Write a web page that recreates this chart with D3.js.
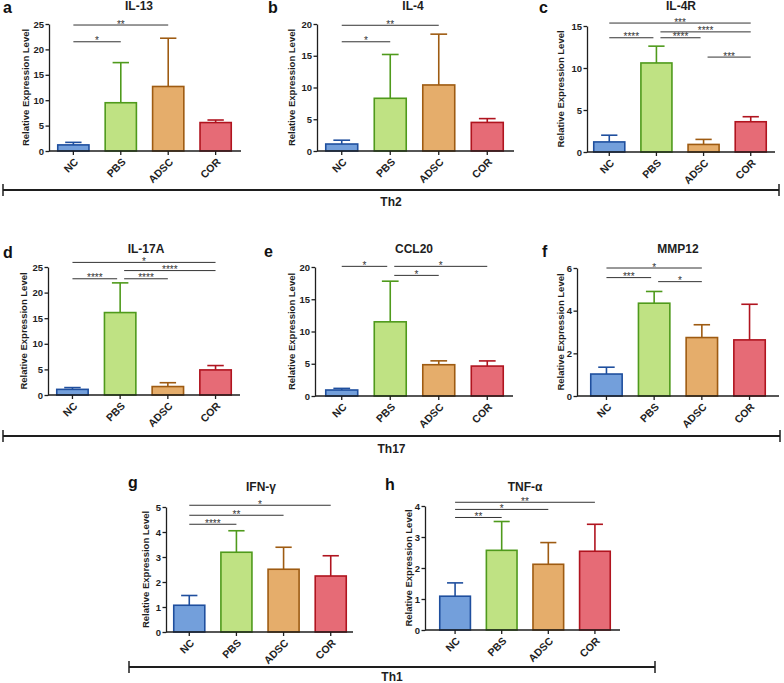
<!DOCTYPE html>
<html><head><meta charset="utf-8">
<script src="https://cdn.jsdelivr.net/npm/d3@7"></script>
<style>
body{margin:0;background:#fff}
svg{display:block}
text{font-family:"Liberation Sans",Arial,Helvetica,sans-serif}
</style>
</head><body><svg id="chart" width="784" height="683"></svg>
<script>
// ---------- data ----------
const categories = ["NC", "PBS", "ADSC", "COR"];
const groupLabels = ["Th2", "Th17", "Th1"];

const il13Mean = [1.2, 9.5, 12.7, 5.6];
const il13SD   = [0.5, 7.9, 9.5, 0.5];
const il13Sig  = [["NC","ADSC","**",24.8],["NC","PBS","*",21.5]];

const il4Mean = [1.1, 8.3, 10.4, 4.5];
const il4SD   = [0.6, 6.9, 8.0, 0.6];
const il4Sig  = [["NC","ADSC","**",19.8],["NC","PBS","*",17.2]];

const il4rMean = [1.2, 10.6, 0.9, 3.6];
const il4rSD   = [0.8, 2.0, 0.6, 0.6];
const il4rSig  = [["NC","COR","***",15.35],["PBS","COR","****",14.3],["NC","PBS","****",13.6],["PBS","ADSC","****",13.6],["ADSC","COR","***",11.3]];

const il17aMean = [1.1, 16.1, 1.65, 4.9];
const il17aSD   = [0.35, 5.8, 0.75, 0.85];
const il17aSig  = [["NC","COR","*",25.9],["PBS","COR","****",24.3],["NC","PBS","****",22.7],["PBS","ADSC","****",22.7]];

const ccl20Mean = [0.93, 11.5, 4.85, 4.64];
const ccl20SD   = [0.25, 6.3, 0.6, 0.8];
const ccl20Sig  = [["NC","PBS","*",20.1],["PBS","COR","*",20.1],["PBS","ADSC","*",18.7]];

const mmp12Mean = [1.03, 4.35, 2.74, 2.63];
const mmp12SD   = [0.32, 0.55, 0.6, 1.67];
const mmp12Sig  = [["NC","ADSC","*",6.0],["NC","PBS","***",5.55],["PBS","ADSC","*",5.36]];

const ifngMean = [1.07, 3.19, 2.51, 2.24];
const ifngSD   = [0.39, 0.86, 0.88, 0.81];
const ifngSig  = [["NC","COR","*",5.07],["NC","ADSC","**",4.67],["NC","PBS","****",4.31]];

const tnfaMean = [1.09, 2.57, 2.12, 2.54];
const tnfaSD   = [0.43, 0.93, 0.70, 0.87];
const tnfaSig  = [["NC","COR","**",4.12],["NC","ADSC","*",3.89],["NC","PBS","**",3.63]];

const yTickStep = [5, 5, 5, 5, 5, 2, 1, 1];
const yMax      = [25, 20, 15, 25, 20, 6, 5, 4];

// ---------- styles ----------
const fillColors   = ["#739fdb", "#bfe283", "#e5ad6b", "#e66b76"];
const strokeColors = ["#1f4f9e", "#4f9a1c", "#9e5b12", "#b0141f"];
const ink = "#1e1e1e";

// ---------- layout ----------
const panels = [
  {letter:"a", title:"IL-13",  mean:il13Mean,  sd:il13SD,  sig:il13Sig,  ax:49,  axEnd:241, barL:57,  barR:232, y0:151, yTop:24,  titleX:139, titleY:10,  letterX:3,   letterY:13,  ylabX:26},
  {letter:"b", title:"IL-4",   mean:il4Mean,   sd:il4SD,   sig:il4Sig,   ax:317, axEnd:514, barL:325, barR:504, y0:151, yTop:24,  titleX:413, titleY:10,  letterX:268, letterY:13,  ylabX:292},
  {letter:"c", title:"IL-4R",  mean:il4rMean,  sd:il4rSD,  sig:il4rSig,  ax:587, axEnd:775, barL:593, barR:767, y0:152, yTop:26,  titleX:681, titleY:10,  letterX:539, letterY:13,  ylabX:561},
  {letter:"d", title:"IL-17A", mean:il17aMean, sd:il17aSD, sig:il17aSig, ax:48,  axEnd:240, barL:56,  barR:232, y0:395, yTop:267, titleX:146, titleY:253, letterX:3,   letterY:258, ylabX:24},
  {letter:"e", title:"CCL20",  mean:ccl20Mean, sd:ccl20SD, sig:ccl20Sig, ax:315, axEnd:513, barL:325, barR:504, y0:396, yTop:267, titleX:414, titleY:253, letterX:264, letterY:257, ylabX:292},
  {letter:"f", title:"MMP12",  mean:mmp12Mean, sd:mmp12SD, sig:mmp12Sig, ax:577, axEnd:779, barL:590, barR:766, y0:396, yTop:268, titleX:678, titleY:253, letterX:542, letterY:257, ylabX:561},
  {letter:"g", title:"IFN-γ",  mean:ifngMean,  sd:ifngSD,  sig:ifngSig,  ax:166, axEnd:353, barL:173, barR:347, y0:632, yTop:507, titleX:261, titleY:491, letterX:128, letterY:488, ylabX:146},
  {letter:"h", title:"TNF-α",  mean:tnfaMean,  sd:tnfaSD,  sig:tnfaSig,  ax:425, axEnd:620, barL:439, barR:611, y0:630, yTop:506, titleX:525, titleY:491, letterX:385, letterY:490, ylabX:409}
];

const brackets = [
  {label:groupLabels[0], x1:3,   x2:779, y:190, labelY:206},
  {label:groupLabels[1], x1:3,   x2:780, y:436, labelY:453},
  {label:groupLabels[2], x1:129, x2:655, y:667, labelY:681}
];

const svg = d3.select("#chart");

panels.forEach((p, i) => {
  const g = svg.append("g");
  const y = d3.scaleLinear().domain([0, yMax[i]]).range([p.y0, p.yTop]);
  const x = d3.scaleBand().domain(categories).range([p.barL, p.barR]).paddingInner(0.31).paddingOuter(0);
  const bw = x.bandwidth();
  const data = categories.map((c, k) => ({cat:c, mean:p.mean[k], sd:p.sd[k], k}));

  // bars
  g.selectAll("rect.bar").data(data).join("rect")
    .attr("class","bar")
    .attr("x", d => x(d.cat) + 0.75)
    .attr("y", d => y(d.mean))
    .attr("width", bw - 1.5)
    .attr("height", d => y(0) - y(d.mean))
    .attr("fill", d => fillColors[d.k])
    .attr("stroke", d => strokeColors[d.k])
    .attr("stroke-width", 1.6);

  // error bars
  const capW = bw * 0.5;
  g.selectAll("line.err").data(data).join("line")
    .attr("x1", d => x(d.cat) + bw/2).attr("x2", d => x(d.cat) + bw/2)
    .attr("y1", d => y(d.mean)).attr("y2", d => y(d.mean + d.sd))
    .attr("stroke", d => strokeColors[d.k]).attr("stroke-width", 1.6);
  g.selectAll("line.cap").data(data).join("line")
    .attr("x1", d => x(d.cat) + bw/2 - capW/2).attr("x2", d => x(d.cat) + bw/2 + capW/2)
    .attr("y1", d => y(d.mean + d.sd)).attr("y2", d => y(d.mean + d.sd))
    .attr("stroke", d => strokeColors[d.k]).attr("stroke-width", 1.6);

  // y axis
  const yAxis = d3.axisLeft(y)
    .tickValues(d3.range(0, yMax[i] + yTickStep[i]/2, yTickStep[i]))
    .tickFormat(d3.format("d"))
    .tickSize(3.5).tickSizeOuter(0).tickPadding(1.5);
  const ya = g.append("g").attr("transform", `translate(${p.ax},0)`).call(yAxis);
  ya.select(".domain").attr("stroke", ink).attr("stroke-width", 1.3);
  ya.selectAll(".tick line").attr("stroke", ink).attr("stroke-width", 1.3);
  ya.selectAll(".tick text").attr("fill", ink).style("font-size","9.5px").style("font-weight","bold")
    .style("font-family",'"Liberation Sans",Arial,sans-serif');

  // x axis
  g.append("line").attr("x1", p.ax).attr("x2", p.axEnd).attr("y1", p.y0).attr("y2", p.y0)
    .attr("stroke", ink).attr("stroke-width", 1.3);
  const xAxis = d3.axisBottom(x).tickSize(4).tickSizeOuter(0).tickFormat("");
  const xa = g.append("g").attr("transform", `translate(0,${p.y0})`).call(xAxis);
  xa.select(".domain").remove();
  xa.selectAll(".tick text").remove();
  xa.selectAll(".tick line").attr("stroke", ink).attr("stroke-width", 1.3);
  const catG = g.selectAll("g.cat").data(categories).join("g")
    .attr("class","cat")
    .attr("transform", c => `translate(${x(c) + bw/2 + 3},${p.y0 + 9})`);
  catG.append("text")
    .attr("transform", "rotate(-45)")
    .attr("text-anchor","end")
    .attr("dy","0.35em")
    .attr("fill", ink)
    .style("font-size","10.5px").style("font-weight","bold")
    .text(c => c);

  // y label
  g.append("text")
    .attr("transform", `translate(${p.ylabX},${(p.y0 + p.yTop)/2}) rotate(-90)`)
    .attr("text-anchor","middle").attr("dy","0.35em")
    .attr("fill", ink)
    .style("font-size","9.5px").style("font-weight","bold")
    .text("Relative Expression Level");

  // title
  g.append("text").attr("x", p.titleX).attr("y", p.titleY)
    .attr("text-anchor","middle").attr("fill", ink)
    .style("font-size","12px").style("font-weight","bold").text(p.title);

  // panel letter
  g.append("text").attr("x", p.letterX).attr("y", p.letterY)
    .attr("fill", "#111")
    .style("font-size","16px").style("font-weight","bold").text(p.letter);

  // significance
  p.sig.forEach(s => {
    const [from, to, lab, h] = s;
    const x1 = x(from) + bw/2 + (from !== categories[0] ? 4 : 0);
    const x2 = x(to) + bw/2 - (p.sig.some(t => t[0] === to) ? 3 : 0);
    const yy = y(h);
    g.append("line").attr("x1", x1).attr("x2", x2).attr("y1", yy).attr("y2", yy)
      .attr("stroke", "#333").attr("stroke-width", 1);
    g.append("text").attr("x", (x1 + x2)/2).attr("y", yy + 2.5)
      .attr("text-anchor","middle").attr("fill","#333")
      .style("font-size","10px").text(lab);
  });
});

// group brackets
brackets.forEach(b => {
  const g = svg.append("g");
  g.append("line").attr("x1", b.x1).attr("x2", b.x2).attr("y1", b.y).attr("y2", b.y)
    .attr("stroke", ink).attr("stroke-width", 2);
  [b.x1, b.x2].forEach(xx => g.append("line").attr("x1", xx).attr("x2", xx)
    .attr("y1", b.y - 6).attr("y2", b.y + 6).attr("stroke", ink).attr("stroke-width", 1.5));
  g.append("text").attr("x", (b.x1 + b.x2)/2).attr("y", b.labelY)
    .attr("text-anchor","middle").attr("fill", ink)
    .style("font-size","12px").style("font-weight","bold").text(b.label);
});
</script>
</body></html>
